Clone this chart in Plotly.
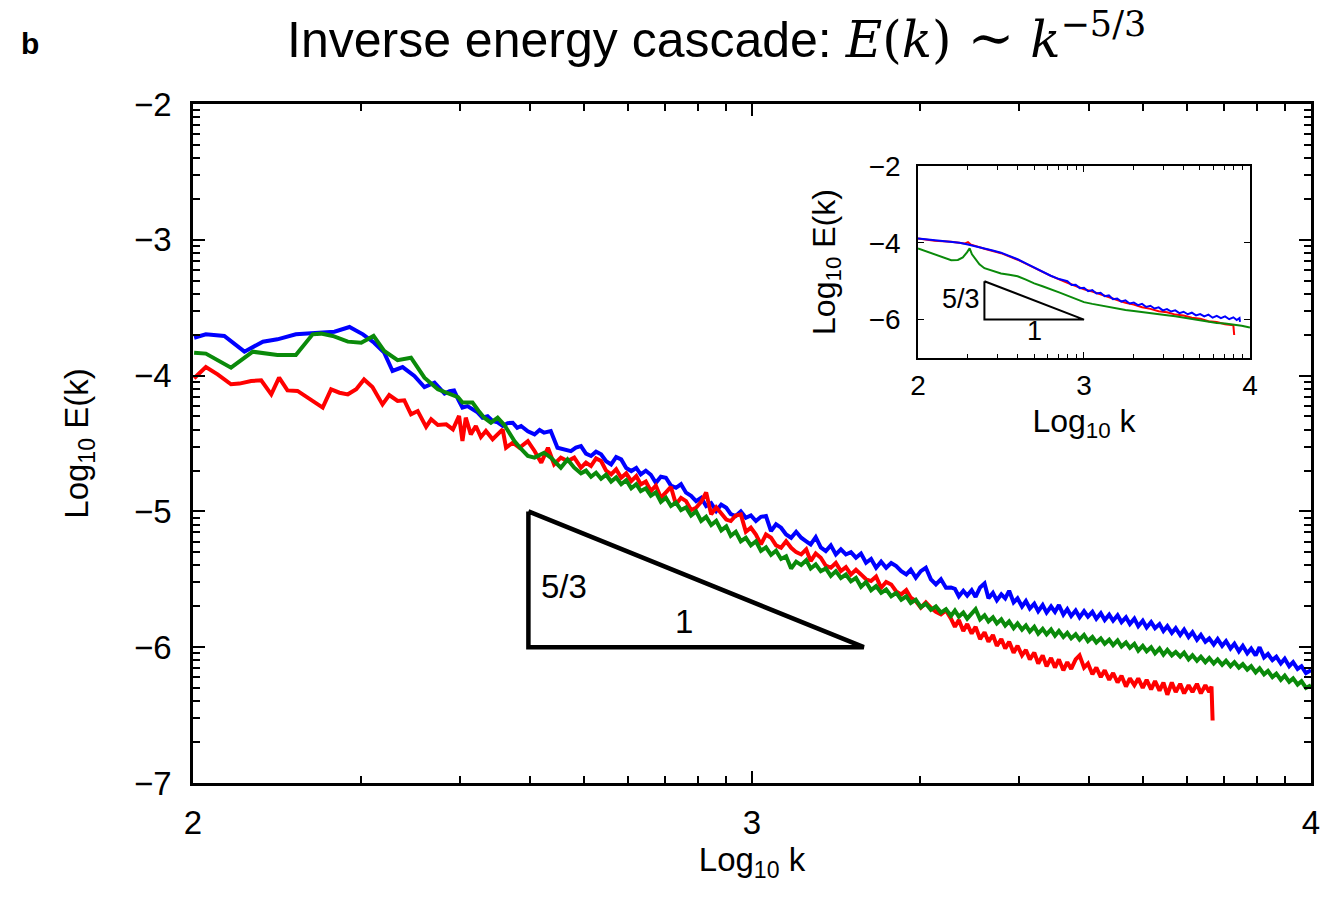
import plotly.graph_objects as go

# ---------------- data (log10 k, log10 E) ----------------
# low-k part of each main spectrum
blue_early_logk = [2.002, 2.023, 2.056, 2.092, 2.125, 2.151, 2.184, 2.217, 2.253, 2.280,
                   2.304, 2.324, 2.342, 2.357, 2.375, 2.396, 2.414, 2.432, 2.450, 2.459,
                   2.467, 2.475, 2.482, 2.491, 2.500, 2.509, 2.518, 2.527, 2.536, 2.545,
                   2.554, 2.563, 2.572, 2.580, 2.587, 2.599, 2.611, 2.620, 2.628, 2.640,
                   2.652, 2.664, 2.676, 2.685, 2.694]
blue_early_logE = [-3.721, -3.696, -3.708, -3.824, -3.750, -3.733, -3.696, -3.689, -3.677, -3.642,
                   -3.696, -3.758, -3.831, -3.966, -3.937, -4.003, -4.084, -4.052, -4.133, -4.115,
                   -4.109, -4.180, -4.236, -4.225, -4.248, -4.270, -4.310, -4.300, -4.334, -4.345,
                   -4.371, -4.350, -4.347, -4.385, -4.371, -4.410, -4.433, -4.400, -4.420, -4.408,
                   -4.531, -4.545, -4.556, -4.530, -4.519]

red_early_logk = [2.002, 2.023, 2.044, 2.068, 2.083, 2.104, 2.122, 2.140, 2.154, 2.169,
                  2.187, 2.211, 2.232, 2.247, 2.262, 2.277, 2.292, 2.306, 2.321, 2.339,
                  2.351, 2.366, 2.378, 2.390, 2.402, 2.417, 2.426, 2.438, 2.453, 2.465,
                  2.476, 2.482, 2.488, 2.497, 2.506, 2.515, 2.524, 2.536, 2.554, 2.560,
                  2.572, 2.584, 2.599, 2.611, 2.623, 2.635, 2.646, 2.658, 2.670, 2.682,
                  2.694]
red_early_logE = [-4.020, -3.937, -3.991, -4.064, -4.059, -4.040, -4.035, -4.138, -4.015, -4.109,
                  -4.113, -4.175, -4.236, -4.101, -4.126, -4.138, -4.101, -4.028, -4.084, -4.212,
                  -4.143, -4.187, -4.182, -4.285, -4.261, -4.378, -4.322, -4.364, -4.359, -4.396,
                  -4.297, -4.482, -4.310, -4.433, -4.371, -4.452, -4.408, -4.469, -4.396, -4.531,
                  -4.494, -4.531, -4.482, -4.555, -4.641, -4.531, -4.653, -4.604, -4.629, -4.604,
                  -4.678]

green_early_logk = [2.002, 2.023, 2.068, 2.107, 2.151, 2.184, 2.214, 2.229, 2.250, 2.277,
                    2.301, 2.323, 2.342, 2.366, 2.390, 2.414, 2.438, 2.462, 2.474, 2.482,
                    2.500, 2.511, 2.521, 2.533, 2.545, 2.557, 2.566, 2.575, 2.587, 2.599,
                    2.611, 2.628, 2.640, 2.658, 2.670, 2.682, 2.694]
green_early_logE = [-3.831, -3.838, -3.942, -3.824, -3.848, -3.848, -3.696, -3.691, -3.708, -3.750,
                    -3.758, -3.708, -3.819, -3.887, -3.868, -4.015, -4.101, -4.138, -4.158, -4.199,
                    -4.199, -4.260, -4.310, -4.347, -4.310, -4.364, -4.420, -4.482, -4.540, -4.592,
                    -4.604, -4.568, -4.604, -4.678, -4.617, -4.678, -4.720]

# high-k part: sample positions shared by the three main spectra
dense_logk = [2.703, 2.712, 2.721, 2.730, 2.739, 2.748, 2.757, 2.766, 2.775, 2.784,
              2.793, 2.801, 2.810, 2.819, 2.828, 2.837, 2.846, 2.855, 2.864, 2.873,
              2.882, 2.891, 2.900, 2.909, 2.918, 2.927, 2.936, 2.945, 2.954, 2.962,
              2.971, 2.980, 2.989, 2.998, 3.007, 3.016, 3.025, 3.034, 3.043, 3.052,
              3.061, 3.070, 3.079, 3.088, 3.097, 3.105, 3.114, 3.123, 3.132, 3.141,
              3.150, 3.159, 3.168, 3.177, 3.186, 3.195, 3.204, 3.213, 3.222, 3.231,
              3.240, 3.249, 3.258, 3.267, 3.276, 3.284, 3.293, 3.302, 3.311, 3.320,
              3.329, 3.338, 3.347, 3.356,
              3.363, 3.370, 3.378, 3.385, 3.393, 3.400, 3.408, 3.416, 3.423, 3.431,
              3.438, 3.446, 3.453, 3.460, 3.468, 3.475, 3.483, 3.490, 3.497, 3.505,
              3.512, 3.520, 3.527, 3.535, 3.542, 3.549, 3.557, 3.564, 3.571, 3.579,
              3.586, 3.594, 3.601, 3.609, 3.616, 3.624, 3.631, 3.639, 3.646, 3.654,
              3.661, 3.669, 3.676, 3.684, 3.691, 3.699, 3.706, 3.714, 3.721, 3.729,
              3.736, 3.743, 3.751, 3.758, 3.766, 3.773, 3.781, 3.788, 3.796, 3.803,
              3.811, 3.818, 3.826, 3.833, 3.841, 3.848, 3.856, 3.863, 3.871, 3.878,
              3.886, 3.893, 3.901, 3.908, 3.916, 3.923, 3.931, 3.938, 3.946, 3.953,
              3.961, 3.968, 3.976, 3.983, 3.991, 4.000]

blue_dense_logE = [-4.575, -4.592, -4.560, -4.580, -4.630, -4.654, -4.600, -4.617, -4.680, -4.703,
                   -4.680, -4.727, -4.700, -4.730, -4.790, -4.745, -4.752, -4.810, -4.826, -4.800,
                   -4.862, -4.885, -4.924, -4.900, -4.961, -4.940, -4.997, -4.950, -4.973, -5.020,
                   -5.034, -5.000, -5.047, -5.030, -5.071, -5.040, -5.034, -5.145, -5.095, -5.120,
                   -5.170, -5.194, -5.150, -5.194, -5.220, -5.243, -5.190, -5.265, -5.292, -5.250,
                   -5.317, -5.280, -5.317, -5.300, -5.341, -5.310, -5.378, -5.350, -5.415, -5.370,
                   -5.415, -5.380, -5.403, -5.440, -5.464, -5.430, -5.488, -5.440, -5.415, -5.500,
                   -5.538, -5.500, -5.562, -5.560,
                   -5.570, -5.625, -5.585, -5.620, -5.580, -5.630, -5.560, -5.530, -5.640, -5.600,
                   -5.655, -5.610, -5.640, -5.585, -5.670, -5.640, -5.700, -5.660, -5.715, -5.680,
                   -5.735, -5.690, -5.745, -5.700, -5.740, -5.690, -5.760, -5.720, -5.770, -5.730,
                   -5.780, -5.735, -5.775, -5.740, -5.790, -5.750, -5.800, -5.760, -5.805, -5.765,
                   -5.815, -5.780, -5.830, -5.790, -5.845, -5.805, -5.855, -5.815, -5.860, -5.830,
                   -5.880, -5.845, -5.895, -5.860, -5.910, -5.870, -5.925, -5.890, -5.945, -5.910,
                   -5.960, -5.935, -5.980, -5.940, -5.990, -5.955, -6.010, -5.975, -6.030, -5.990,
                   -6.045, -6.010, -6.060, -6.000, -6.075, -6.050, -6.095, -6.070, -6.120, -6.085,
                   -6.140, -6.110, -6.160, -6.140, -6.190, -6.170]

green_dense_logE = [-4.700, -4.745, -4.715, -4.760, -4.730, -4.780, -4.750, -4.800, -4.770, -4.830,
                    -4.800, -4.850, -4.830, -4.885, -4.860, -4.930, -4.900, -4.960, -4.935, -4.990,
                    -4.970, -5.030, -5.000, -5.070, -5.040, -5.100, -5.070, -5.140, -5.110, -5.180,
                    -5.150, -5.220, -5.195, -5.250, -5.220, -5.290, -5.265, -5.320, -5.290, -5.350,
                    -5.330, -5.420, -5.370, -5.395, -5.360, -5.420, -5.390, -5.440, -5.420, -5.475,
                    -5.440, -5.490, -5.465, -5.515, -5.490, -5.555, -5.520, -5.580, -5.550, -5.600,
                    -5.575, -5.625, -5.600, -5.650, -5.625, -5.675, -5.650, -5.705, -5.680, -5.725,
                    -5.700, -5.745, -5.720, -5.770,
                    -5.730, -5.775, -5.745, -5.790, -5.755, -5.720, -5.795, -5.765, -5.810, -5.780,
                    -5.825, -5.795, -5.840, -5.810, -5.860, -5.825, -5.870, -5.840, -5.885, -5.850,
                    -5.900, -5.865, -5.905, -5.870, -5.915, -5.880, -5.925, -5.895, -5.935, -5.905,
                    -5.945, -5.910, -5.955, -5.925, -5.965, -5.935, -5.975, -5.945, -5.985, -5.950,
                    -5.995, -5.965, -6.005, -5.975, -6.025, -5.990, -6.030, -6.000, -6.045, -6.010,
                    -6.055, -6.020, -6.060, -6.035, -6.070, -6.040, -6.090, -6.060, -6.100, -6.070,
                    -6.110, -6.080, -6.120, -6.090, -6.130, -6.100, -6.140, -6.110, -6.150, -6.125,
                    -6.165, -6.140, -6.185, -6.155, -6.200, -6.175, -6.220, -6.195, -6.240, -6.210,
                    -6.255, -6.230, -6.275, -6.250, -6.300, -6.280]

red_dense_logE = [-4.640, -4.666, -4.610, -4.629, -4.700, -4.727, -4.690, -4.752, -4.720, -4.777,
                  -4.740, -4.801, -4.780, -4.850, -4.810, -4.899, -4.860, -4.820, -4.948, -4.900,
                  -4.924, -4.990, -4.973, -4.930, -4.860, -5.022, -4.970, -5.010, -5.060, -5.071,
                  -5.030, -5.022, -5.150, -5.120, -5.170, -5.243, -5.170, -5.194, -5.250, -5.268,
                  -5.220, -5.268, -5.300, -5.317, -5.280, -5.366, -5.310, -5.341, -5.400, -5.415,
                  -5.380, -5.439, -5.410, -5.464, -5.430, -5.464, -5.500, -5.513, -5.480, -5.562,
                  -5.520, -5.538, -5.590, -5.611, -5.580, -5.636, -5.660, -5.709, -5.670, -5.709,
                  -5.740, -5.759, -5.730, -5.790,
                  -5.850, -5.800, -5.880, -5.830, -5.900, -5.850, -5.940, -5.890, -5.960, -5.910,
                  -5.990, -5.940, -6.010, -5.960, -6.040, -5.990, -6.060, -6.020, -6.090, -6.040,
                  -6.120, -6.060, -6.140, -6.080, -6.150, -6.090, -6.170, -6.110, -6.160, -6.090,
                  -6.060, -6.150, -6.120, -6.200, -6.150, -6.220, -6.170, -6.240, -6.190, -6.260,
                  -6.210, -6.290, -6.230, -6.280, -6.230, -6.300, -6.240, -6.310, -6.250, -6.320,
                  -6.260, -6.350, -6.260, -6.330, -6.270, -6.340, -6.280, -6.330, -6.270, -6.340,
                  -6.280, -6.330]
red_tail_logk = [3.822, 3.824]
red_tail_logE = [-6.290, -6.540]

# inset spectra
inset_blue_logk = [2.000, 2.050, 2.100, 2.150, 2.200, 2.250, 2.300, 2.350, 2.400, 2.450,
                   2.500, 2.550, 2.600, 2.650, 2.700, 2.750, 2.800, 2.850, 2.900, 2.925,
                   2.950, 2.975, 3.000, 3.025, 3.050, 3.075, 3.100, 3.125, 3.150, 3.175,
                   3.200, 3.225, 3.250, 3.275, 3.300, 3.325, 3.350, 3.375, 3.400, 3.425,
                   3.450, 3.475, 3.500, 3.525, 3.550, 3.575, 3.600, 3.625, 3.650, 3.675,
                   3.700, 3.725, 3.750, 3.775, 3.800, 3.825, 3.850, 3.875, 3.900, 3.920,
                   3.937, 3.940]
inset_blue_logE = [-3.887, -3.910, -3.939, -3.955, -3.973, -4.000, -4.042, -4.090, -4.145, -4.200,
                   -4.257, -4.340, -4.429, -4.535, -4.643, -4.750, -4.858, -4.945, -5.000, -5.100,
                   -5.090, -5.180, -5.170, -5.260, -5.230, -5.320, -5.300, -5.390, -5.370, -5.470,
                   -5.450, -5.530, -5.500, -5.580, -5.555, -5.625, -5.590, -5.670, -5.640, -5.710,
                   -5.680, -5.760, -5.725, -5.790, -5.760, -5.830, -5.795, -5.860, -5.820, -5.890,
                   -5.855, -5.915, -5.870, -5.950, -5.900, -5.960, -5.915, -5.990, -5.940, -6.010,
                   -5.960, -6.060]

inset_red_logk = [2.000, 2.100, 2.200, 2.280, 2.301, 2.320, 2.400, 2.500, 2.600, 2.700,
                  2.800, 2.900, 3.000, 3.050, 3.100, 3.150, 3.200, 3.250, 3.300, 3.350,
                  3.400, 3.450, 3.500, 3.550, 3.600, 3.650, 3.700, 3.750, 3.800, 3.850,
                  3.900, 3.905]
inset_red_logE = [-3.890, -3.945, -3.975, -4.020, -3.985, -4.050, -4.155, -4.270, -4.440, -4.650,
                  -4.860, -5.040, -5.210, -5.270, -5.350, -5.420, -5.490, -5.560, -5.610, -5.680,
                  -5.720, -5.780, -5.810, -5.870, -5.895, -5.950, -5.975, -6.040, -6.060, -6.120,
                  -6.150, -6.400]

inset_green_logk = [2.000, 2.050, 2.100, 2.150, 2.200, 2.240, 2.270, 2.295, 2.311, 2.325,
                    2.341, 2.370, 2.400, 2.450, 2.500, 2.550, 2.600, 2.650, 2.700, 2.750,
                    2.800, 2.850, 2.900, 2.950, 3.000, 3.050, 3.100, 3.150, 3.200, 3.250,
                    3.300, 3.350, 3.400, 3.450, 3.500, 3.550, 3.600, 3.650, 3.700, 3.750,
                    3.800, 3.850, 3.900, 3.950, 4.000]
inset_green_logE = [-4.145, -4.220, -4.300, -4.380, -4.454, -4.445, -4.380, -4.250, -4.145, -4.300,
                    -4.386, -4.560, -4.661, -4.740, -4.800, -4.830, -4.870, -4.960, -5.056, -5.130,
                    -5.202, -5.290, -5.374, -5.460, -5.545, -5.590, -5.631, -5.675, -5.717, -5.748,
                    -5.777, -5.800, -5.829, -5.860, -5.889, -5.915, -5.949, -5.980, -6.018, -6.050,
                    -6.087, -6.100, -6.121, -6.160, -6.207]

# slope-reference triangles (log10 k, log10 E)
main_tri_logk = [2.6, 2.6, 3.2, 2.6]
main_tri_logE = [-5.0, -6.0, -6.0, -5.0]
inset_tri_logk = [2.4, 2.4, 3.0, 2.4]
inset_tri_logE = [-5.0, -6.0, -6.0, -5.0]

# axis ticks (decades) and labels
x_decades = [2, 3, 4]
x_ticktext = ["2", "3", "4"]
y_decades = [-2, -3, -4, -5, -6, -7]
y_ticktext = ["\u22122", "\u22123", "\u22124", "\u22125", "\u22126", "\u22127"]
inset_y_decades = [-2, -4, -6]
inset_y_ticktext = ["\u22122", "\u22124", "\u22126"]

BLUE, RED, GREEN = "#0000ff", "#ff0000", "#0a8a0a"
FONT = "Liberation Sans"


def pw(vals):
    return [10 ** v for v in vals]


fig = go.Figure()

# ---- main panel ----
blue_x = blue_early_logk + dense_logk
blue_y = blue_early_logE + blue_dense_logE
n = min(len(blue_x), len(blue_y))
fig.add_trace(go.Scatter(x=pw(blue_x[:n]), y=pw(blue_y[:n]), mode="lines",
                         line=dict(color=BLUE, width=4), xaxis="x", yaxis="y"))

red_x = red_early_logk + dense_logk[:len(red_dense_logE)] + red_tail_logk
red_y = red_early_logE + red_dense_logE + red_tail_logE
n = min(len(red_x), len(red_y))
fig.add_trace(go.Scatter(x=pw(red_x[:n]), y=pw(red_y[:n]), mode="lines",
                         line=dict(color=RED, width=4), xaxis="x", yaxis="y"))

green_x = green_early_logk + dense_logk
green_y = green_early_logE + green_dense_logE
n = min(len(green_x), len(green_y))
fig.add_trace(go.Scatter(x=pw(green_x[:n]), y=pw(green_y[:n]), mode="lines",
                         line=dict(color=GREEN, width=4), xaxis="x", yaxis="y"))

fig.add_trace(go.Scatter(x=pw(main_tri_logk), y=pw(main_tri_logE), mode="lines",
                         line=dict(color="black", width=4.5), xaxis="x", yaxis="y"))

# ---- inset ----
for lk, le, col in [(inset_red_logk, inset_red_logE, RED),
                    (inset_blue_logk, inset_blue_logE, BLUE),
                    (inset_green_logk, inset_green_logE, GREEN)]:
    n = min(len(lk), len(le))
    fig.add_trace(go.Scatter(x=pw(lk[:n]), y=pw(le[:n]), mode="lines",
                             line=dict(color=col, width=2), xaxis="x2", yaxis="y2"))

fig.add_trace(go.Scatter(x=pw(inset_tri_logk), y=pw(inset_tri_logE), mode="lines",
                         line=dict(color="black", width=2), xaxis="x2", yaxis="y2"))

minor_x = [m * 10 ** d for d in (2, 3) for m in range(2, 10)]
minor_y = [m * 10 ** d for d in (-7, -6, -5, -4, -3) for m in range(2, 10)]


def axis_common(size):
    return dict(type="log", showline=True, linecolor="black", mirror="ticks",
                ticks="inside", tickcolor="black", showgrid=False, zeroline=False,
                tickfont=dict(family=FONT, size=size, color="black"))


xa = axis_common(33)
xa.update(domain=[0, 1], anchor="y", range=[2, 4], linewidth=2.5, tickwidth=2, ticklen=12,
          tickmode="array", tickvals=pw(x_decades), ticktext=x_ticktext, ticklabelstandoff=9,
          minor=dict(tickmode="array", tickvals=minor_x, ticks="inside", ticklen=7,
                     tickwidth=1.5, tickcolor="black", showgrid=False),
          title=dict(text="Log<sub>10</sub> k", standoff=6,
                     font=dict(family=FONT, size=33, color="black")))
ya = axis_common(33)
ya.update(domain=[0, 1], anchor="x", range=[-7, -2], linewidth=2.5, tickwidth=2, ticklen=12,
          tickmode="array", tickvals=pw(y_decades), ticktext=y_ticktext, ticklabelstandoff=12,
          minor=dict(tickmode="array", tickvals=minor_y, ticks="inside", ticklen=7,
                     tickwidth=1.5, tickcolor="black", showgrid=False),
          title=dict(text="Log<sub>10</sub> E(k)", standoff=36,
                     font=dict(family=FONT, size=33, color="black")))
xa2 = axis_common(28)
xa2.update(domain=[0.6485, 0.9454], anchor="y2", range=[2, 4], linewidth=1.5, tickwidth=1.2,
           ticklen=6, tickmode="array", tickvals=pw(x_decades), ticktext=x_ticktext,
           ticklabelstandoff=2,
           minor=dict(tickmode="array", tickvals=minor_x, ticks="inside", ticklen=4,
                      tickwidth=1, tickcolor="black", showgrid=False),
           title=dict(text="Log<sub>10</sub> k", standoff=9,
                      font=dict(family=FONT, size=32, color="black")))
ya2 = axis_common(28)
ya2.update(domain=[0.6259, 0.9087], anchor="x2", range=[-7, -2], linewidth=1.5, tickwidth=1.2,
           ticklen=6, tickmode="array", tickvals=pw(inset_y_decades), ticktext=inset_y_ticktext,
           ticklabelstandoff=10,
           title=dict(text="Log<sub>10</sub> E(k)", standoff=24,
                      font=dict(family=FONT, size=32, color="black")))

annotations = [
    dict(text="5/3", x=2.663, y=-5.55, xref="x", yref="y", showarrow=False,
         font=dict(family=FONT, size=33, color="black")),
    dict(text="1", x=2.878, y=-5.81, xref="x", yref="y", showarrow=False,
         font=dict(family=FONT, size=33, color="black")),
    dict(text="5/3", x=2.385, y=-5.46, xref="x2", yref="y2", showarrow=False,
         xanchor="right", font=dict(family=FONT, size=27, color="black")),
    dict(text="1", x=2.70, y=-6.30, xref="x2", yref="y2", showarrow=False,
         font=dict(family=FONT, size=27, color="black")),
    dict(text="<b>b</b>", x=-0.156, y=1.116, xref="paper", yref="paper", showarrow=False,
         font=dict(family=FONT, size=30, color="black")),
]

title_text = ('Inverse energy cascade: <span style="font-family:DejaVu Serif">'
              '<i>E</i>(<i>k</i>) <span style="font-size:56px">\u223c</span> '
              '<i>k</i><sup>\u22125/3</sup></span>')

fig.update_layout(
    width=1329, height=897,
    margin=dict(l=185, r=26, t=96, b=122),
    paper_bgcolor="white", plot_bgcolor="white",
    showlegend=False,
    xaxis=xa, yaxis=ya, xaxis2=xa2, yaxis2=ya2,
    annotations=annotations,
    title=dict(text=title_text, xref="container", yref="container",
               x=279 / 1329, xanchor="left", y=1 - 31 / 897, yanchor="middle",
               font=dict(family=FONT, size=50, color="black")),
)

fig.write_html("out.html")
